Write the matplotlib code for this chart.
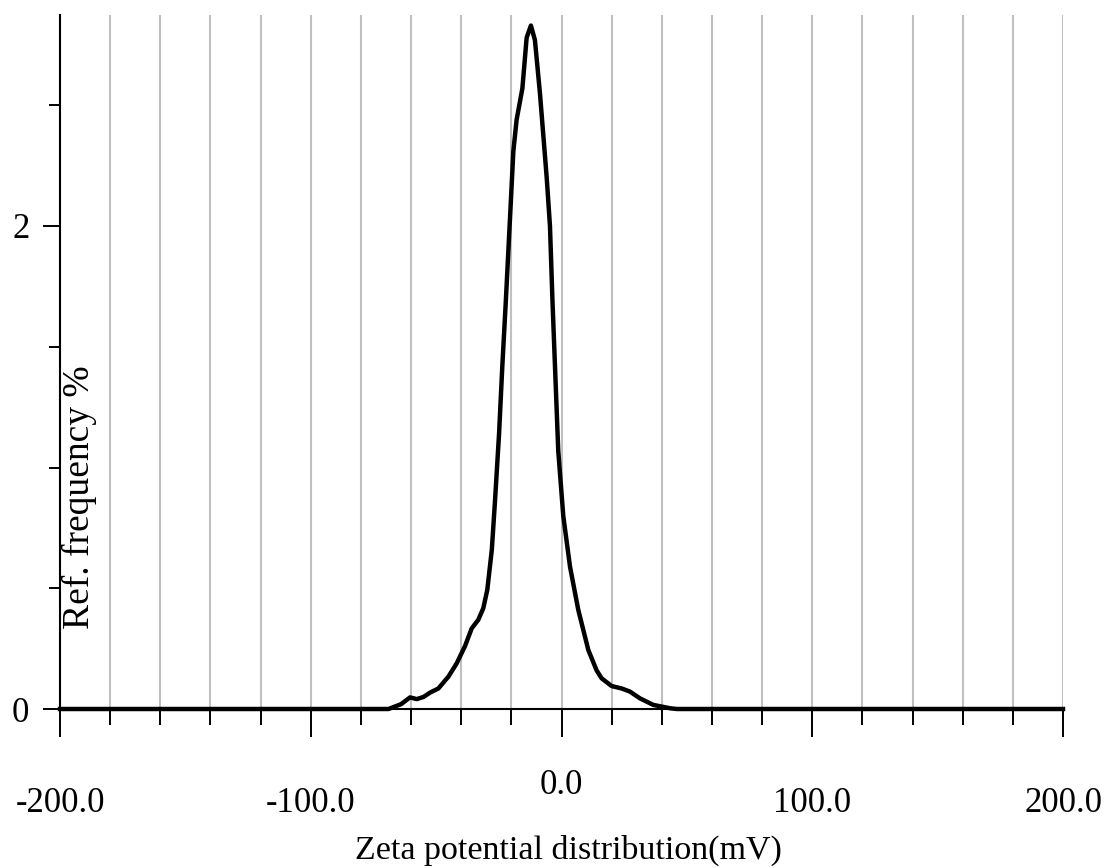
import matplotlib
matplotlib.use("Agg")
import matplotlib.pyplot as plt
from matplotlib.transforms import ScaledTranslation

plt.rcParams['font.family'] = ['Liberation Serif', 'DejaVu Serif']

# zeta potential (mV) and relative frequency (%)
zeta = [-200, -69, -64, -60.4, -57.7, -55, -52.4, -49.1, -45.1, -41.8, -38.5,
        -35.8, -33.2, -31.2, -29.6, -27.8, -26.5, -24.9, -23.6, -22.2, -20.5,
        -19.2, -17.9, -15.6, -13.9, -12.2, -10.6, -8.6, -5.9, -4.6, -3.6,
        -2.6, -1.3, 0.7, 3.4, 6.7, 10.7, 14, 16, 20, 24, 27.3, 31.3, 36.6,
        43.3, 46, 200]
freq = [0, 0, 0.02, 0.048, 0.041, 0.05, 0.068, 0.085, 0.134, 0.189, 0.26,
        0.334, 0.369, 0.417, 0.493, 0.658, 0.865, 1.14, 1.42, 1.69, 2.04,
        2.31, 2.44, 2.57, 2.78, 2.83, 2.77, 2.55, 2.20, 2.00, 1.69,
        1.42, 1.07, 0.80, 0.589, 0.41, 0.244, 0.16, 0.127, 0.095, 0.085,
        0.072, 0.044, 0.017, 0.003, 0, 0]

x_major = [-200, -100, 0, 100, 200]
x_labels = ['-200.0', '-100.0', '0.0', '100.0', '200.0']
x_minor = list(range(-180, 200, 20))
y_major = [0, 2]
y_minor = [0.5, 1.0, 1.5, 2.5]

W, H = 1106, 868
fig = plt.figure(figsize=(W / 100, H / 100), dpi=100)
ax = fig.add_axes([60 / W, (H - 709) / H, (1063 - 60) / W, (709 - 15) / H])

ax.set_xlim(-200, 200)
ax.set_ylim(0, (709 - 15) / 241.5)

for g in x_minor + [200]:
    ax.axvline(g, color='#c0c0c0', lw=1.5, zorder=1)

ax.plot(zeta, freq, color='black', lw=3.2, clip_on=False, zorder=3)

for s in ['top', 'right']:
    ax.spines[s].set_visible(False)
ax.spines['left'].set_linewidth(1.5)
ax.spines['bottom'].set_linewidth(1.5)

ax.set_xticks(x_major)
ax.set_xticks(x_minor, minor=True)
ax.set_xticklabels([])
ax.tick_params(axis='x', which='major', length=20, width=1.4, direction='out')
ax.tick_params(axis='x', which='minor', length=11.5, width=1.4, direction='out')

ax.set_yticks(y_major)
ax.set_yticks(y_minor, minor=True)
ax.set_yticklabels(['0', '2'], fontsize=25)
ax.tick_params(axis='y', which='major', length=12, width=1.4, pad=10)
ax.tick_params(axis='y', which='minor', length=8, width=1.4)

# x tick labels, the 0.0 one sits higher as in the original
for v, lab in zip(x_major, x_labels):
    drop = 76 if v == 0 else 94
    tr = ax.get_xaxis_transform() + ScaledTranslation(0, -drop / 100, fig.dpi_scale_trans)
    ax.text(v, 0, lab, transform=tr, ha='center', va='center', fontsize=25)

fig.text(568 / W, (H - 850) / H, 'Zeta potential distribution(mV)',
         ha='center', va='center', fontsize=24.5)
fig.text(79 / W, (H - 497) / H, 'Ref. frequency %', rotation=90,
         ha='center', va='center', fontsize=27)

fig.savefig('out.png', dpi=100)
